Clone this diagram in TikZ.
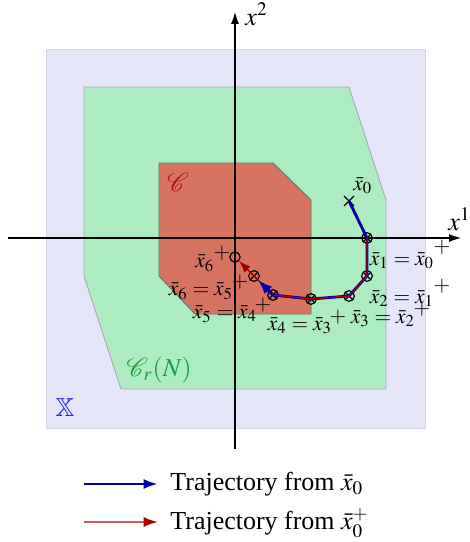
\documentclass[tikz,border=0pt]{standalone}
\usepackage{mathptmx}
\usepackage{amssymb}
\usepackage{mathrsfs}
\usepackage{fontspec}
\setmainfont{Liberation Serif}
\usetikzlibrary{arrows.meta,shapes.misc}
\definecolor{bgX}{RGB}{230,230,250}
\definecolor{bgXline}{RGB}{214,214,234}
\definecolor{greenfill}{RGB}{173,235,192}
\definecolor{greenline}{RGB}{165,172,182}
\definecolor{redfill}{RGB}{214,116,96}
\definecolor{redline}{RGB}{95,125,110}
\definecolor{labC}{RGB}{178,20,20}
\definecolor{labCr}{RGB}{26,158,63}
\definecolor{labX}{RGB}{30,30,238}
\definecolor{navy}{RGB}{0,0,165}
\definecolor{darkred}{RGB}{165,0,0}
\definecolor{legred}{RGB}{196,92,92}
\tikzset{
  ptlab/.style={inner sep=0pt,font=\fontsize{9}{11}\selectfont,anchor=base},
  biglab/.style={inner sep=0pt,font=\fontsize{10.9}{13}\selectfont},
  pluslab/.style={inner sep=0pt,font=\fontsize{9}{11}\selectfont},
  otimesnode/.style={circle,draw=black,line width=0.5pt,minimum size=4.5pt,inner sep=0pt,
    path picture={\draw[line width=0.45pt] (path picture bounding box.south west)--(path picture bounding box.north east)
      (path picture bounding box.north west)--(path picture bounding box.south east);}},
  ocircnode/.style={circle,draw=black,line width=0.5pt,minimum size=4.3pt,inner sep=0pt},
  axisline/.style={line width=0.5pt,-{Latex[length=5pt,width=3.4pt]}},
  bluetraj/.style={navy,line width=1.2pt,line join=round},
  redtraj/.style={darkred,line width=0.55pt,line join=round},
}
\begin{document}
\begin{tikzpicture}[x=0.42pt,y=-0.42pt]
\useasboundingbox (0,0) rectangle (470,542);
% regions
\draw[fill=bgX,draw=bgXline,line width=0.4pt] (46,49) rectangle (425,428);
\draw[fill=greenfill,draw=greenline,line width=0.4pt]
  (84,87) -- (349,87) -- (386,200) -- (386,389) -- (121,389) -- (84,276) -- cycle;
\draw[fill=redfill,draw=redline,line width=0.4pt]
  (159,163) -- (273,163) -- (311,200) -- (311,314) -- (195,314) -- (159,276) -- cycle;
\node[biglab,text=labC] (labelC) at (178,182) {$\mathscr{C}$};
\node[biglab,text=labCr] (labelCr) at (159,370) {$\mathscr{C}_r(N)$};
\node[biglab,text=labX] (labelX) at (65,408) {$\mathbb{X}$};
% axes
\coordinate (a1s) at (8,238);
\coordinate (a1e) at (461,238);
\coordinate (a2s) at (235,449);
\coordinate (a2e) at (235,12);
\draw[axisline] (a1s) -- (a1e);
\draw[axisline] (a2s) -- (a2e);
\node[biglab,anchor=base west] (lx1) at (448,230) {$x^1$};
\node[biglab,anchor=base west] (lx2) at (245,25) {$x^2$};
% points
\node[draw=black,cross out,minimum size=3.6pt,inner sep=0pt,line width=0.5pt] (x0) at (349,201) {};
\node[otimesnode] (p1) at (367,238) {};
\node[otimesnode] (p2) at (367,276) {};
\node[otimesnode] (p3) at (349,296) {};
\node[otimesnode] (p4) at (311,299) {};
\node[otimesnode] (p5) at (273,295) {};
\node[otimesnode] (p6) at (254,276) {};
\node[ocircnode] (c6) at (235,257) {};
% trajectories
\draw[bluetraj] (x0.center) -- (p1.center) -- (p2.center) -- (p3.center) -- (p4.center) -- (p5.center);
\draw[redtraj,-{Latex[length=5pt,width=3.6pt]}] (p1.center) -- (p2.center) -- (p3.center) -- (p4.center) -- (p5.center) -- (p6.center) -- (c6);
\draw[bluetraj,-{Latex[length=6pt,width=4.5pt]}] (p5.center) -- (p6);
% labels
\node[ptlab] (l0) at (363,190) {$\bar{x}_0$};
\node[ptlab] (l1) at (402,265) {$\bar{x}_1=\bar{x}_0$};
\node[ptlab] (l2) at (402,303) {$\bar{x}_2=\bar{x}_1$};
\node[ptlab] (l3) at (383,323) {$\bar{x}_3=\bar{x}_2$};
\node[ptlab] (l4) at (300,330) {$\bar{x}_4=\bar{x}_3$};
\node[ptlab] (l5) at (225,318) {$\bar{x}_5=\bar{x}_4$};
\node[ptlab] (l6) at (201,295) {$\bar{x}_6=\bar{x}_5$};
\node[ptlab] (l7) at (205,267) {$\bar{x}_6$};
\node[pluslab] (q1) at (442,247) {$+$};
\node[pluslab] (q2) at (442,286) {$+$};
\node[pluslab] (q3) at (422,309) {$+$};
\node[pluslab] (q4) at (338,317) {$+$};
\node[pluslab] (q5) at (263,305) {$+$};
\node[pluslab] (q6) at (240,282) {$+$};
\node[pluslab] (q7) at (222,253) {$+$};
% legend
\coordinate (lg1s) at (84,484);
\coordinate (lg1e) at (158,484);
\coordinate (lg2s) at (84,522);
\coordinate (lg2e) at (158,522);
\draw[navy,line width=1.2pt,-{Latex[length=6pt,width=4.2pt]}] (lg1s) -- (lg1e);
\draw[legred,line width=0.9pt,-{Latex[length=6pt,width=4.2pt,color=darkred]}] (lg2s) -- (lg2e);
\node[biglab,anchor=west] (t1) at (170,484) {Trajectory from $\bar{x}_0$};
\node[biglab,anchor=west] (t2) at (170,523) {Trajectory from $\bar{x}_0^+$};
\end{tikzpicture}
\end{document}
